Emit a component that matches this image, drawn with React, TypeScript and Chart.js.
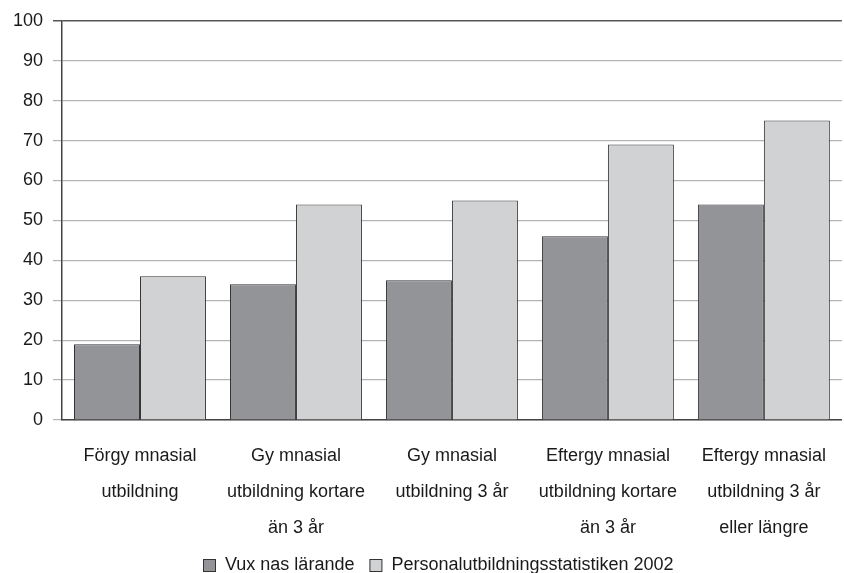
import React, { useEffect, useRef } from "react";
import { Chart, registerables } from "chart.js";

Chart.register(...registerables);

const categories: string[][] = [
  ["Förgy mnasial", "utbildning"],
  ["Gy mnasial", "utbildning kortare", "än 3 år"],
  ["Gy mnasial", "utbildning 3 år"],
  ["Eftergy mnasial", "utbildning kortare", "än 3 år"],
  ["Eftergy mnasial", "utbildning 3 år", "eller längre"],
];
const seriesNames = ["Vux nas lärande", "Personalutbildningsstatistiken 2002"];
const vuxnasValues = [19, 34, 35, 46, 54];
const personalValues = [36, 54, 55, 69, 75];
const yTicks = [0, 10, 20, 30, 40, 50, 60, 70, 80, 90, 100];

const FONT = "'Liberation Sans', Arial, sans-serif";
const COLORS = ["#939498", "#d1d2d4"];

const legendPlugin = {
  id: "customLegend",
  afterDraw(chart: any) {
    const ctx = chart.ctx as CanvasRenderingContext2D;
    ctx.save();
    ctx.font = `18px ${FONT}`;
    const box = 12;
    const gapBoxText = 10;
    const gapItems = 15;
    const widths = seriesNames.map((n) => ctx.measureText(n).width);
    const total =
      widths.reduce((a, b) => a + b, 0) + seriesNames.length * (box + gapBoxText) + gapItems * (seriesNames.length - 1);
    let x = Math.round(438 - total / 2);
    const y = 565;
    seriesNames.forEach((name, i) => {
      ctx.fillStyle = COLORS[i];
      ctx.fillRect(x + 0.5, y - box / 2 + 0.5, box, box);
      ctx.strokeStyle = "#333333";
      ctx.lineWidth = 1;
      ctx.strokeRect(x + 0.5, y - box / 2 + 0.5, box, box);
      x += box + gapBoxText;
      ctx.fillStyle = "#1a1a1a";
      ctx.textBaseline = "middle";
      ctx.textAlign = "left";
      ctx.fillText(name, x, y);
      x += widths[i] + gapItems;
    });
    ctx.restore();
  },
};

export default function App() {
  const ref = useRef<HTMLCanvasElement>(null);
  useEffect(() => {
    if (!ref.current) return;
    const chart = new Chart(ref.current, {
      type: "bar",
      data: {
        labels: categories,
        datasets: [
          {
            label: seriesNames[0],
            data: vuxnasValues,
            backgroundColor: COLORS[0],
            borderColor: "#333333",
            borderWidth: 1,
          },
          {
            label: seriesNames[1],
            data: personalValues,
            backgroundColor: COLORS[1],
            borderColor: "#333333",
            borderWidth: 1,
          },
        ],
      },
      options: {
        responsive: false,
        animation: false,
        layout: { padding: { left: 0, top: 20, right: 1, bottom: 0 } },
        plugins: {
          legend: { display: false },
          tooltip: { enabled: false },
        },
        datasets: {
          bar: { categoryPercentage: 0.846, barPercentage: 1.0 },
        },
        scales: {
          x: {
            grid: { display: false, drawTicks: false },
            border: { display: true, color: "#444444", width: 1.5 },
            ticks: {
              color: "#1a1a1a",
              font: { family: FONT, size: 18, lineHeight: "36px" as any },
              padding: 18,
              maxRotation: 0,
              autoSkip: false,
            },
            afterFit: (s: any) => {
              s.height = 153;
            },
          },
          y: {
            min: 0,
            max: 100,
            afterBuildTicks: (s: any) => {
              s.ticks = yTicks.map((v) => ({ value: v }));
            },
            grid: {
              color: (c: any) => (c.tick && c.tick.value === 100 ? "#555555" : "#b3b3b3"),
              lineWidth: (c: any) => (c.tick && c.tick.value === 100 ? 1.5 : 1.2),
              tickLength: 9,
              drawTicks: true,
            },
            border: { display: true, color: "#444444", width: 1.5 },
            ticks: {
              color: "#1a1a1a",
              font: { family: FONT, size: 18 },
              padding: 10,
            },
            afterFit: (s: any) => {
              s.width = 62;
            },
          },
        },
      },
      plugins: [legendPlugin],
    });
    return () => chart.destroy();
  }, []);
  return (
    <div style={{ position: "absolute", left: 0, top: 0, width: 844, height: 573, background: "#fff" }}>
      <canvas ref={ref} width={844} height={573} />
    </div>
  );
}
